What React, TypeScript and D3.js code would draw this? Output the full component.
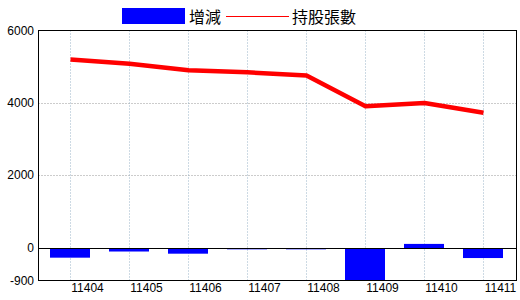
import React from "react";
import * as d3 from "d3";

const categories = ["11404", "11405", "11406", "11407", "11408", "11409", "11410", "11411"];
const changeValues = [-270, -100, -160, -40, -40, -900, 110, -280];
const holderValues = [5200, 5080, 4900, 4845, 4755, 3910, 4000, 3730];
const yTicks = [6000, 4000, 2000, 0, -900];
const legendLabels = ["增減", "持股張數"];

export default function App() {
  const W = 520, H = 300;
  const left = 38.5, right = 516.5, top = 30.5, bottom = 280.5;
  const x = d3.scaleBand<string>().domain(categories).range([40.5, 512.5]).padding(0);
  const y = d3.scaleLinear().domain([-900, 6000]).range([bottom, top]);
  const cx = (c: string) => Math.round((x(c) as number) + x.bandwidth() / 2) + 0.5;
  const barW = 40;
  const y0 = Math.round(y(0)) + 0.5;

  const line = d3
    .line<number>()
    .x((_, i) => cx(categories[i]))
    .y((d) => y(d))
    .curve(d3.curveLinear);

  const font = "'Liberation Sans', Arial, sans-serif";
  const cjk = "'Noto Sans CJK TC', 'Noto Sans CJK SC', sans-serif";

  return (
    <svg width={W} height={H} style={{ position: "absolute", left: 0, top: 0, background: "#fff" }}>
      <rect x={0} y={0} width={W} height={H} fill="#fff" />
      {/* legend */}
      <rect x={122} y={8} width={63} height={16} fill="#0000ff" />
      <text x={189} y={16} dominantBaseline="central" fontFamily={cjk} fontSize={16} fill="#000">
        {legendLabels[0]}
      </text>
      <line x1={226} x2={289} y1={16.5} y2={16.5} stroke="#ff0000" strokeWidth={1} />
      <text x={292} y={16} dominantBaseline="central" fontFamily={cjk} fontSize={16} fill="#000">
        {legendLabels[1]}
      </text>

      {/* horizontal grid */}
      {yTicks
        .filter((t) => t !== 0 && t !== 6000 && t !== -900)
        .map((t) => (
          <line
            key={"h" + t}
            x1={left}
            x2={right}
            y1={Math.round(y(t)) + 0.5}
            y2={Math.round(y(t)) + 0.5}
            stroke="#999"
            strokeDasharray="1,2"
          />
        ))}
      {/* vertical grid */}
      {categories.map((c) => (
        <line key={"v" + c} x1={cx(c)} x2={cx(c)} y1={top} y2={bottom} stroke="#9ab4c8" strokeDasharray="1,2" />
      ))}

      {/* bars */}
      {changeValues.map((v, i) => {
        const c = categories[i];
        const yv = y(v);
        return (
          <rect
            key={"b" + c}
            x={cx(c) - 0.5 - barW / 2}
            y={v >= 0 ? yv : y0 + 0.5}
            width={barW}
            height={Math.max(0, v >= 0 ? y0 - 0.5 - yv : yv - y0 - 0.5)}
            fill="#0000ff"
          />
        );
      })}

      {/* zero line */}
      <line x1={left} x2={right} y1={y0} y2={y0} stroke="#000" strokeWidth={1} />

      {/* holders line */}
      <path
        d={line(holderValues) || ""}
        fill="none"
        stroke="#ff0000"
        strokeWidth={4.5}
        strokeLinejoin="round"
      />

      {/* frame */}
      <rect x={left} y={top} width={right - left} height={bottom - top} fill="none" stroke="#000" strokeWidth={1} />

      {/* y tick labels */}
      {yTicks.map((t) => (
        <text
          key={"yt" + t}
          x={34}
          y={Math.round(y(t))}
          textAnchor="end"
          dominantBaseline="central"
          fontFamily={font}
          fontSize={12}
          fill="#000"
        >
          {t}
        </text>
      ))}
      {/* x tick labels */}
      {categories.map((c) => (
        <text key={"xt" + c} x={cx(c) + 17} y={292} textAnchor="middle" fontFamily={font} fontSize={12} fill="#000">
          {c}
        </text>
      ))}
    </svg>
  );
}
